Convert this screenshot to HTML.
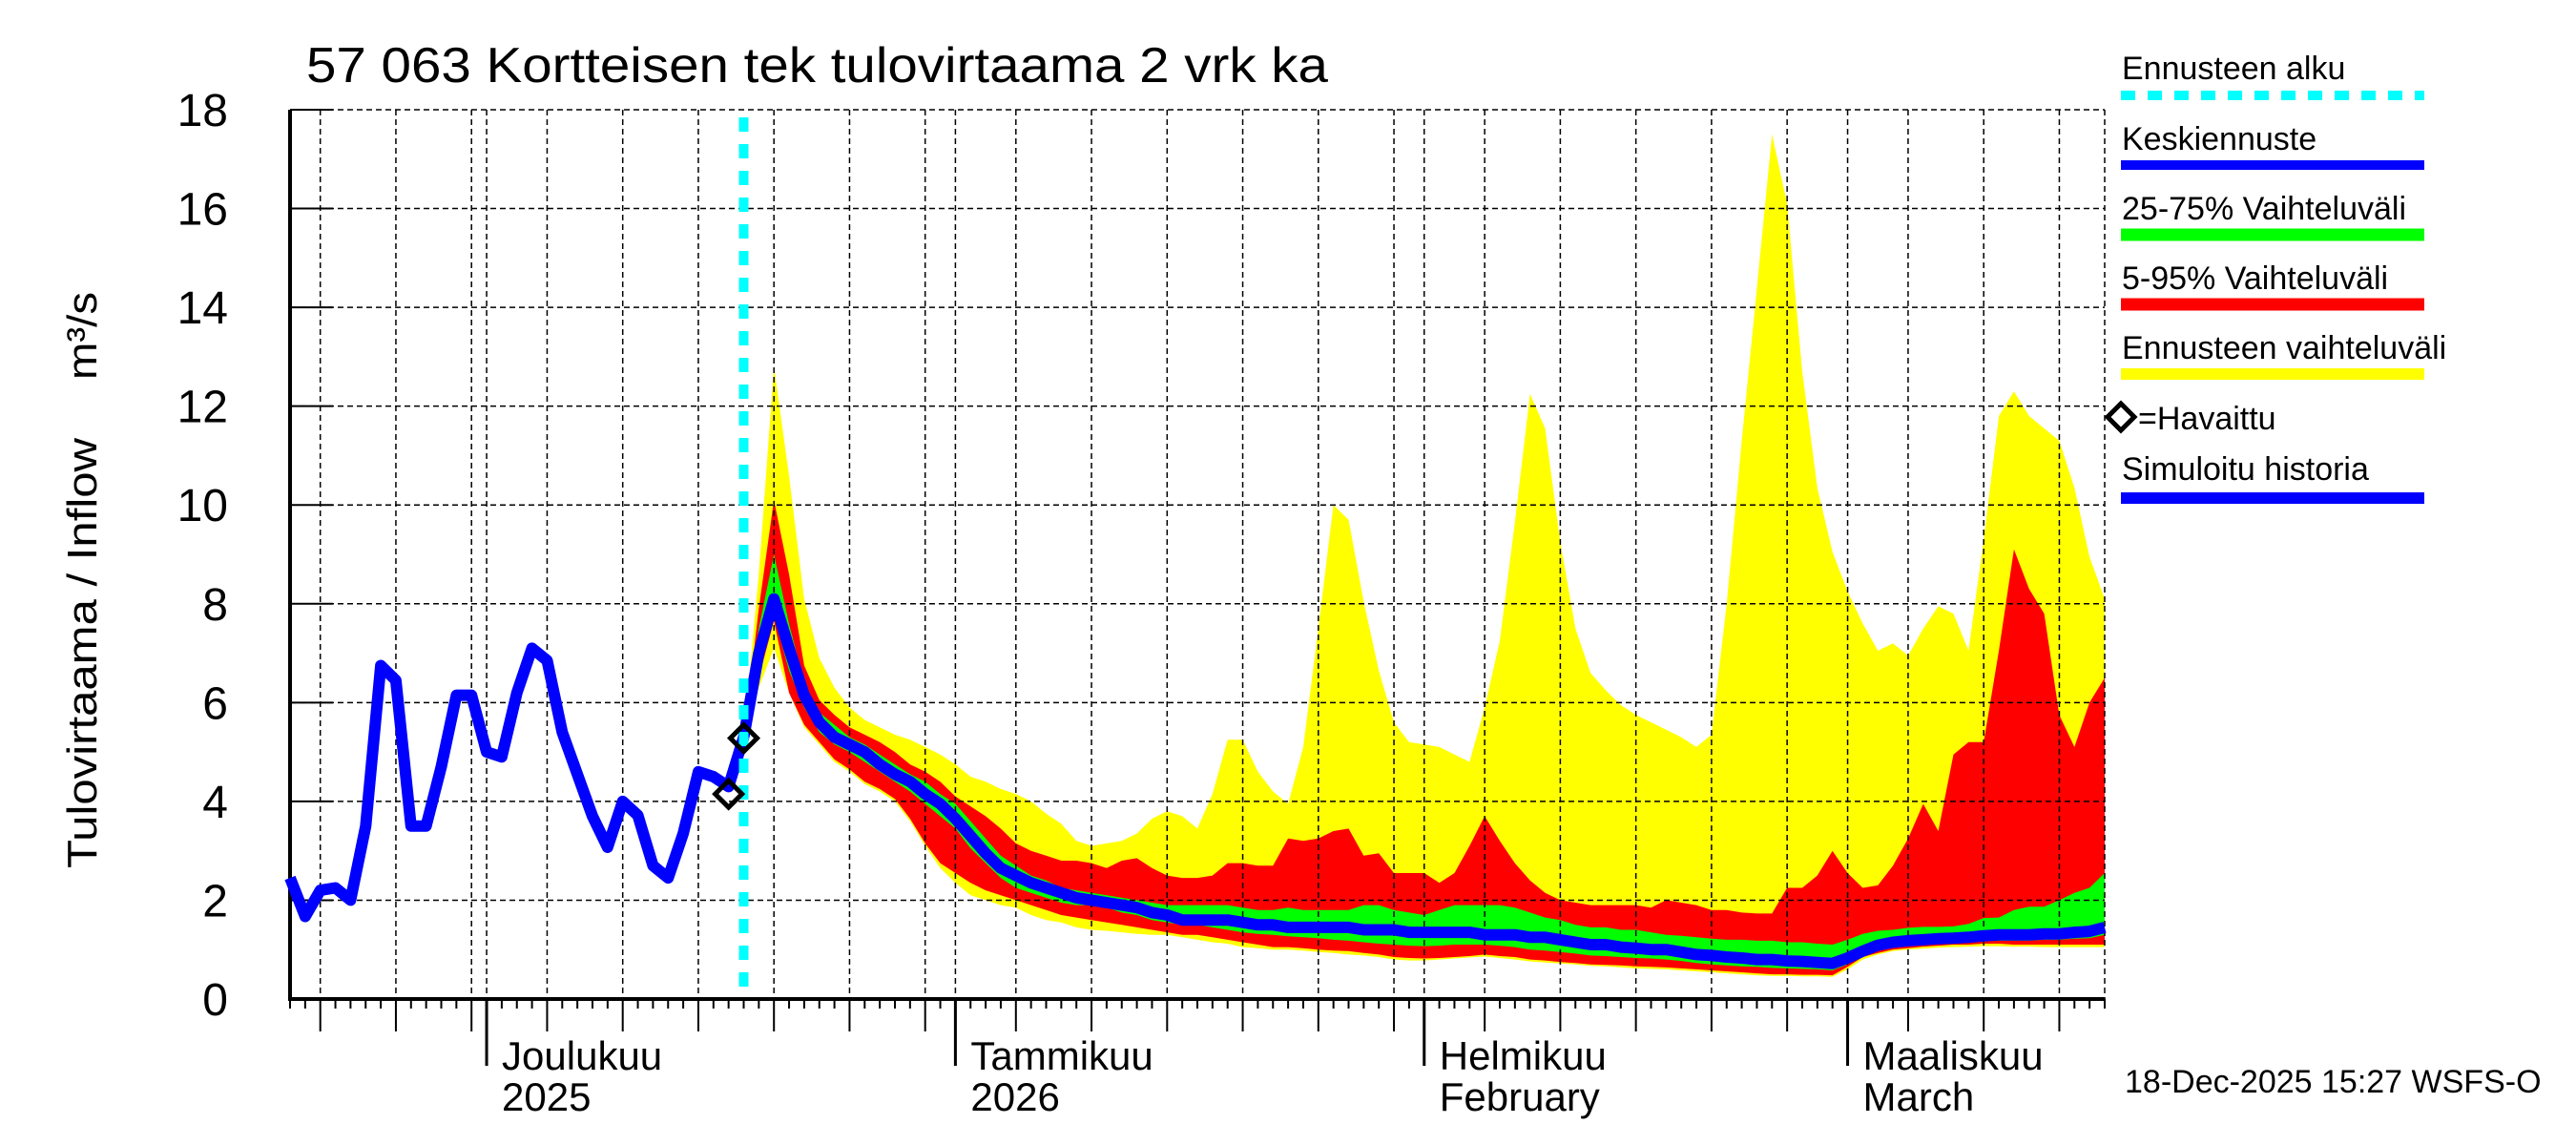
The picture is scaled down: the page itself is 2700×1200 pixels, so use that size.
<!DOCTYPE html>
<html><head><meta charset="utf-8"><style>
html,body{margin:0;padding:0;background:#fff;}
svg{display:block;font-family:"Liberation Sans",sans-serif;}
</style></head><body>
<svg id="chart" width="2700" height="1200" viewBox="0 0 2700 1200" xmlns="http://www.w3.org/2000/svg">
<rect x="0" y="0" width="2700" height="1200" fill="#fff"/>
<text x="321" y="86" font-size="52" textLength="1071" lengthAdjust="spacingAndGlyphs">57 063 Kortteisen tek tulovirtaama 2 vrk ka</text>
<g id="fills"></g><g id="grid"></g><g id="axes"></g><g id="lines"></g>
<text transform="translate(101,910) rotate(-90)" font-size="44" textLength="451" lengthAdjust="spacingAndGlyphs">Tulovirtaama / Inflow</text>
<text transform="translate(101,398) rotate(-90)" font-size="44" textLength="92" lengthAdjust="spacingAndGlyphs">m³/s</text>
<g id="legend">
<text x="2224" y="83" font-size="34">Ennusteen alku</text>
<line x1="2223" y1="100" x2="2541" y2="100" stroke="#00ffff" stroke-width="10" stroke-dasharray="15 13"/>
<text x="2224" y="157" font-size="34">Keskiennuste</text>
<line x1="2223" y1="173" x2="2541" y2="173" stroke="#0000ff" stroke-width="10"/>
<text x="2224" y="230" font-size="34">25-75% Vaihteluväli</text>
<line x1="2223" y1="246" x2="2541" y2="246" stroke="#00ff00" stroke-width="13"/>
<text x="2224" y="303" font-size="34">5-95% Vaihteluväli</text>
<line x1="2223" y1="319" x2="2541" y2="319" stroke="#ff0000" stroke-width="13"/>
<text x="2224" y="376" font-size="34">Ennusteen vaihteluväli</text>
<line x1="2223" y1="392" x2="2541" y2="392" stroke="#ffff00" stroke-width="12"/>
<path d="M2223 423 L2237 437 L2223 451 L2209 437 Z" fill="none" stroke="#000" stroke-width="5"/>
<text x="2241" y="450" font-size="34">=Havaittu</text>
<text x="2224" y="503" font-size="34">Simuloitu historia</text>
<line x1="2223" y1="522" x2="2541" y2="522" stroke="#0000ff" stroke-width="12"/>
</g>
<text x="2227" y="1145" font-size="34">18-Dec-2025 15:27 WSFS-O</text>
</svg>
<script>
// ---- data (day offsets from 18 Nov 2025) ----
const histStart = 0;
const histValues = [2.45,1.67,2.2,2.25,2.0,3.5,6.75,6.45,3.5,3.5,4.7,6.15,6.15,5.0,4.9,6.2,7.1,6.85,5.4,4.55,3.7,3.07,4.0,3.72,2.7,2.45,3.35,4.6,4.5,4.3,5.3];
const obsDays = [29,30];
const obsValues = [4.15,5.28];
const fcStart = 30;
const rangeTop = [5.3,8.6,12.8,10.6,8.1,6.9,6.3,5.9,5.65,5.5,5.35,5.25,5.1,4.95,4.75,4.5,4.4,4.25,4.15,4.0,3.75,3.55,3.2,3.1,3.15,3.2,3.35,3.65,3.8,3.7,3.45,4.15,5.25,5.25,4.6,4.2,3.95,5.1,7.5,10.0,9.7,8.05,6.65,5.6,5.2,5.15,5.1,4.95,4.8,5.9,7.25,9.65,12.25,11.55,9.25,7.5,6.6,6.25,5.95,5.75,5.6,5.45,5.3,5.1,5.35,8.0,11.3,14.4,17.5,16.1,12.7,10.35,9.05,8.25,7.6,7.05,7.2,6.95,7.5,7.95,7.8,7.05,9.3,11.8,12.3,11.8,11.55,11.3,10.35,8.95,8.1];
const p95 = [5.3,7.9,10.1,8.6,6.75,6.05,5.75,5.5,5.35,5.2,5.0,4.75,4.6,4.4,4.1,3.9,3.7,3.45,3.15,3.0,2.9,2.8,2.8,2.75,2.65,2.8,2.85,2.65,2.5,2.45,2.45,2.5,2.75,2.75,2.7,2.7,3.25,3.2,3.25,3.4,3.45,2.9,2.95,2.55,2.55,2.55,2.35,2.55,3.1,3.7,3.2,2.75,2.4,2.15,2.0,1.95,1.9,1.9,1.9,1.9,1.85,2.0,1.95,1.9,1.8,1.8,1.75,1.73,1.73,2.25,2.25,2.5,3.0,2.55,2.25,2.3,2.7,3.25,3.95,3.4,4.95,5.2,5.2,7.05,9.1,8.3,7.8,5.75,5.1,6.0,6.5];
const p75 = [5.3,7.5,9.0,7.6,6.4,5.8,5.55,5.3,5.15,4.95,4.75,4.55,4.4,4.15,3.95,3.6,3.25,2.9,2.7,2.5,2.4,2.25,2.2,2.15,2.1,2.05,2.0,1.95,1.9,1.9,1.9,1.9,1.9,1.85,1.8,1.8,1.85,1.8,1.8,1.8,1.8,1.9,1.9,1.8,1.75,1.7,1.8,1.9,1.9,1.9,1.9,1.85,1.75,1.65,1.6,1.5,1.45,1.45,1.4,1.4,1.35,1.3,1.28,1.25,1.22,1.2,1.2,1.18,1.18,1.15,1.15,1.12,1.1,1.2,1.32,1.38,1.4,1.44,1.46,1.46,1.47,1.52,1.64,1.65,1.8,1.87,1.87,2.0,2.15,2.25,2.55];
const median = [5.3,7.0,8.1,7.1,6.15,5.6,5.3,5.15,5.0,4.75,4.55,4.4,4.15,3.95,3.65,3.3,2.95,2.65,2.5,2.35,2.25,2.15,2.05,2.0,1.95,1.9,1.85,1.75,1.7,1.6,1.6,1.6,1.6,1.55,1.5,1.5,1.45,1.45,1.45,1.45,1.45,1.4,1.4,1.4,1.35,1.35,1.35,1.35,1.35,1.3,1.3,1.3,1.25,1.25,1.2,1.15,1.1,1.1,1.05,1.03,1.0,1.0,0.95,0.9,0.88,0.85,0.83,0.8,0.8,0.77,0.76,0.74,0.72,0.83,0.97,1.09,1.15,1.18,1.2,1.22,1.23,1.25,1.28,1.3,1.3,1.3,1.32,1.32,1.35,1.37,1.45];
const p25 = [5.3,6.7,7.75,6.65,5.9,5.4,5.15,5.0,4.8,4.6,4.4,4.2,3.95,3.7,3.45,3.05,2.75,2.45,2.25,2.15,2.05,1.95,1.9,1.9,1.85,1.75,1.7,1.6,1.55,1.5,1.5,1.45,1.4,1.35,1.32,1.3,1.27,1.25,1.23,1.2,1.18,1.15,1.12,1.1,1.08,1.07,1.08,1.1,1.1,1.1,1.08,1.05,1.0,0.98,0.95,0.92,0.88,0.87,0.85,0.83,0.82,0.8,0.77,0.73,0.7,0.68,0.66,0.65,0.63,0.62,0.61,0.6,0.58,0.7,0.88,0.98,1.05,1.08,1.1,1.12,1.13,1.15,1.17,1.18,1.18,1.18,1.2,1.2,1.22,1.23,1.3];
const p5 = [5.3,6.5,7.65,6.2,5.55,5.2,4.85,4.65,4.4,4.25,4.05,3.65,3.15,2.75,2.55,2.35,2.2,2.1,2.0,1.9,1.8,1.7,1.65,1.6,1.55,1.5,1.45,1.4,1.35,1.3,1.3,1.25,1.2,1.15,1.1,1.05,1.05,1.03,1.0,0.98,0.97,0.93,0.9,0.85,0.83,0.82,0.83,0.85,0.87,0.9,0.87,0.85,0.8,0.78,0.75,0.73,0.7,0.69,0.68,0.66,0.65,0.64,0.62,0.6,0.58,0.56,0.54,0.52,0.5,0.5,0.49,0.49,0.48,0.65,0.85,0.93,1.0,1.03,1.06,1.08,1.1,1.1,1.12,1.12,1.1,1.1,1.1,1.1,1.1,1.1,1.1];
const rangeLow = [5.3,6.3,7.1,6.2,5.5,5.15,4.8,4.6,4.35,4.2,4.0,3.6,3.1,2.65,2.35,2.1,2.0,1.9,1.85,1.7,1.6,1.55,1.45,1.4,1.38,1.35,1.32,1.3,1.3,1.25,1.2,1.15,1.12,1.05,1.03,1.0,1.0,0.98,0.95,0.93,0.9,0.88,0.85,0.8,0.78,0.78,0.8,0.82,0.84,0.86,0.83,0.8,0.76,0.74,0.72,0.7,0.67,0.66,0.64,0.62,0.61,0.6,0.58,0.56,0.54,0.52,0.5,0.48,0.47,0.47,0.46,0.46,0.45,0.6,0.8,0.9,0.97,1.0,1.02,1.04,1.05,1.06,1.07,1.07,1.06,1.06,1.05,1.05,1.05,1.05,1.05];
const yTicks = [0,2,4,6,8,10,12,14,16,18];
const gridDays = [2,7,12,13,17,22,27,32,37,42,44,48,53,58,63,68,73,75,79,84,89,94,99,103,107,112,117];
const monthDays = [13,44,75,103];
const monthLabels1 = ["Joulukuu","Tammikuu","Helmikuu","Maaliskuu"];
const monthLabels2 = ["2025","2026","February","March"];
const forecastStartDay = 30;

// ---- axis functions ----
const X0=304, X1=2206, Y0=1047, Y1=115, DAYPX=15.85, YMAX=18;
function xOf(d){return X0 + d*DAYPX;}
function yOf(v){return Y0 - v/YMAX*(Y0-Y1);}
const NS="http://www.w3.org/2000/svg";
function mk(tag, parent, attrs){const e=document.createElementNS(NS,tag);for(const k in attrs)e.setAttribute(k,attrs[k]);parent.appendChild(e);return e;}
const gF=document.getElementById('fills'), gG=document.getElementById('grid'), gA=document.getElementById('axes'), gL=document.getElementById('lines');

function band(top, low, color, name){
  const pts=[];
  top.forEach((v,i)=>pts.push(xOf(fcStart+i).toFixed(1)+','+yOf(v).toFixed(1)));
  for(let i=low.length-1;i>=0;i--) pts.push(xOf(fcStart+i).toFixed(1)+','+yOf(low[i]).toFixed(1));
  const p=mk('polygon',gF,{points:pts.join(' '),fill:color});
  
  
}
band(rangeTop, rangeLow, '#ffff00', 'forecast-range-band');
band(p95, p5, '#ff0000', 'band-5-95');
band(p75, p25, '#00ff00', 'band-25-75');

// grid
yTicks.forEach(v=>{
  if(v===0) return;
  const l=mk('line',gG,{x1:X0,x2:X1,y1:yOf(v),y2:yOf(v),stroke:'#000','stroke-width':1.5,'stroke-dasharray':'6 4'});
  
  
});
gridDays.forEach(d=>{
  const l=mk('line',gG,{x1:xOf(d),x2:xOf(d),y1:Y1,y2:Y0,stroke:'#000','stroke-width':1.5,'stroke-dasharray':'6 4'});
  
  
});
const rg=mk('line',gG,{x1:X1,x2:X1,y1:Y1,y2:Y0,stroke:'#000','stroke-width':1.5,'stroke-dasharray':'6 4'});



// axes
const ya=mk('line',gA,{x1:X0,x2:X0,y1:Y1,y2:Y0+2,stroke:'#000','stroke-width':4});


const xa=mk('line',gA,{x1:X0-2,x2:X1,y1:Y0,y2:Y0,stroke:'#000','stroke-width':4});


yTicks.forEach(v=>{
  const t=mk('line',gA,{x1:X0,x2:X0+45,y1:yOf(v),y2:yOf(v),stroke:'#000','stroke-width':2});
  
  
  const lb=mk('text',gA,{x:239,y:yOf(v)+17,'font-size':48,'text-anchor':'end'});
  lb.textContent=String(v);
  
  
});
for(let d=0; xOf(d)<=X1; d++){
  let len=10;
  if(gridDays.includes(d)) len=34;
  if(monthDays.includes(d)) len=70;
  const t=mk('line',gA,{x1:xOf(d),x2:xOf(d),y1:Y0,y2:Y0+len,stroke:'#000','stroke-width':monthDays.includes(d)?3:2});
  
  
}
monthDays.forEach((d,i)=>{
  const a=mk('text',gA,{x:xOf(d)+16,y:1121,'font-size':42});
  a.textContent=monthLabels1[i];
  
  
  const b=mk('text',gA,{x:xOf(d)+16,y:1164,'font-size':42});
  b.textContent=monthLabels2[i];
  
  
});

// lines
const hp=mk('polyline',gL,{points:histValues.map((v,i)=>xOf(histStart+i).toFixed(1)+','+yOf(v).toFixed(1)).join(' '),fill:'none',stroke:'#0000ff','stroke-width':12,'stroke-linejoin':'round'});


const mp=mk('polyline',gL,{points:median.map((v,i)=>xOf(fcStart+i).toFixed(1)+','+yOf(v).toFixed(1)).join(' '),fill:'none',stroke:'#0000ff','stroke-width':12,'stroke-linejoin':'round'});


const cy=mk('line',gL,{x1:xOf(forecastStartDay),x2:xOf(forecastStartDay),y1:Y1+8,y2:Y0,stroke:'#00ffff','stroke-width':10,'stroke-dasharray':'15 13'});


obsDays.forEach((d,i)=>{
  const cx=xOf(d), cyy=yOf(obsValues[i]), r=14;
  const p=mk('path',gL,{d:`M${cx} ${cyy-r} L${cx+r} ${cyy} L${cx} ${cyy+r} L${cx-r} ${cyy} Z`,fill:'none',stroke:'#000','stroke-width':5});
  
  
});
</script>
</body></html>
